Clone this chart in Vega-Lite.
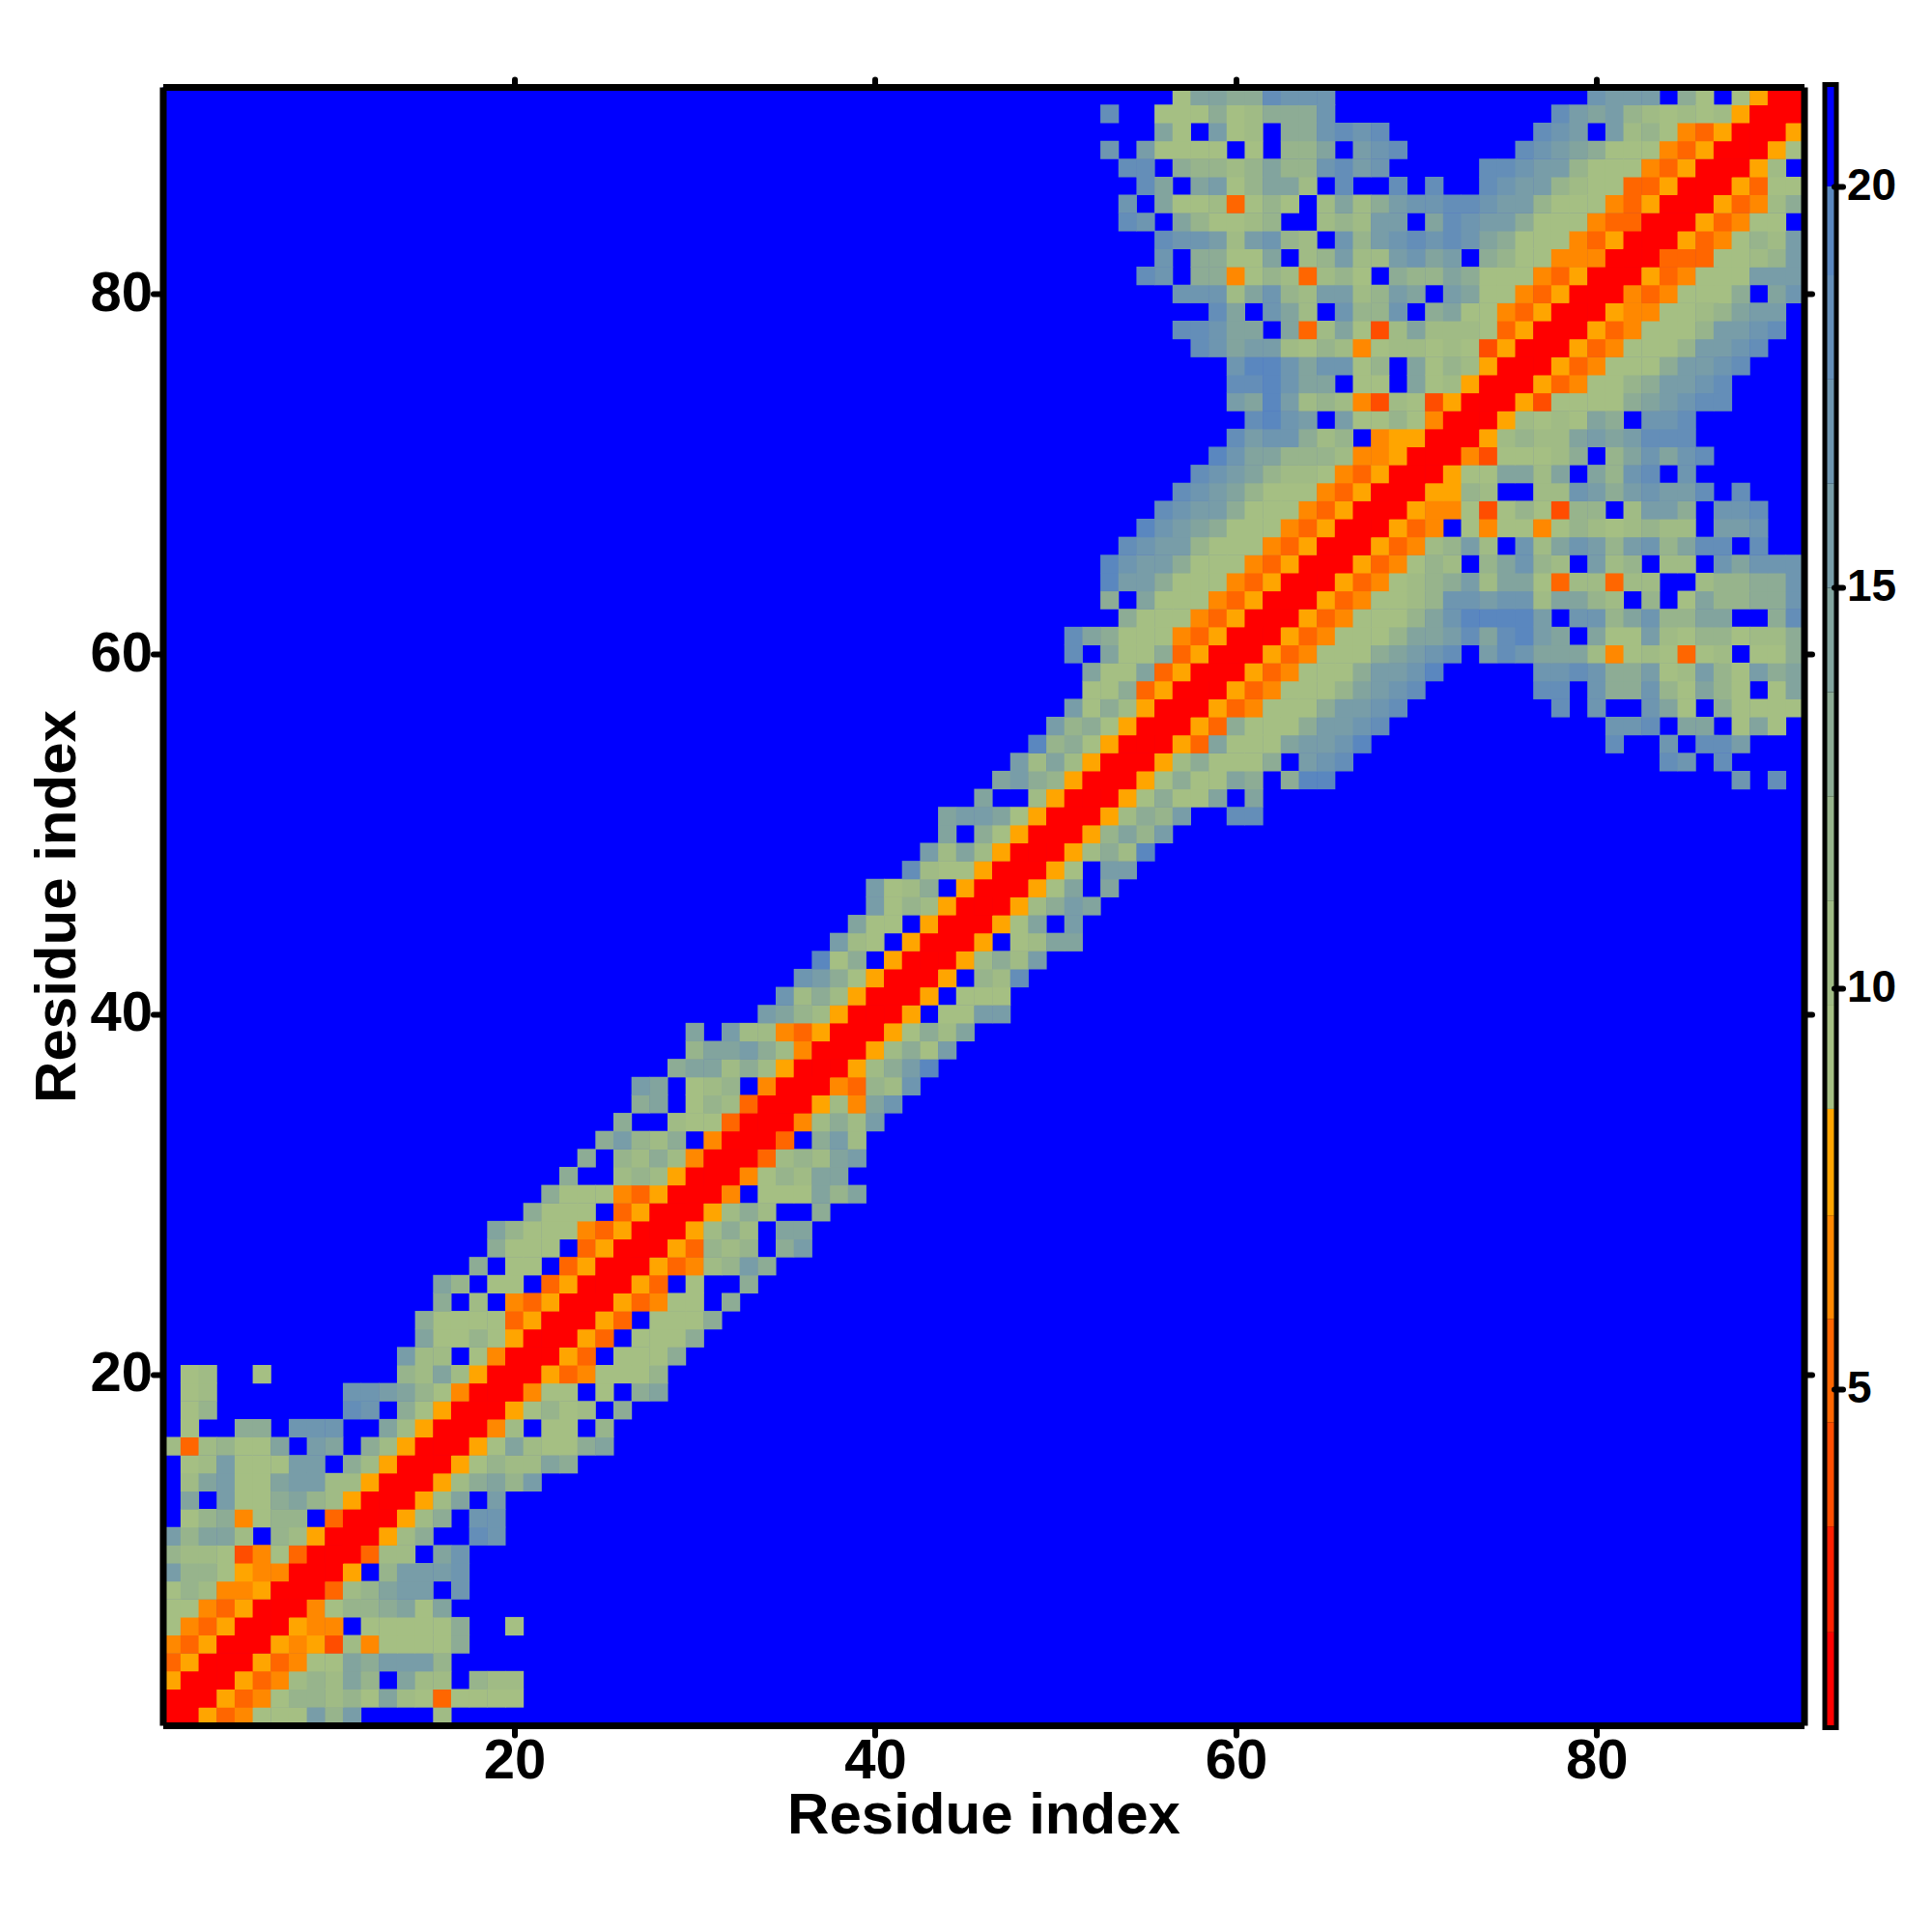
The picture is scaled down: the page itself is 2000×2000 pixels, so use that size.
{"$schema":"https://vega.github.io/schema/vega-lite/v6.json","background":"white","padding":{"left":29.5,"top":79,"right":0,"bottom":0},"spacing":8,"config":{"font":"Liberation Sans","view":{"stroke":null}},"datasets":{"cells":[
{"i":1,"j":1,"v":1.5},{"i":2,"j":1,"v":1.5},{"i":3,"j":1,"v":7.8},{"i":4,"j":1,"v":5.2},{"i":5,"j":1,"v":6.5},{"i":6,"j":1,"v":9},{"i":7,"j":1,"v":9},{"i":8,"j":1,"v":9},{"i":9,"j":1,"v":15.6},{"i":10,"j":1,"v":11.7},{"i":11,"j":1,"v":15.6},{"i":16,"j":1,"v":10.5},
{"i":2,"j":2,"v":1.5},{"i":3,"j":2,"v":1.5},{"i":4,"j":2,"v":7.8},{"i":5,"j":2,"v":5.2},{"i":6,"j":2,"v":6.5},{"i":7,"j":2,"v":9},{"i":8,"j":2,"v":11.7},{"i":9,"j":2,"v":11.7},{"i":10,"j":2,"v":10.5},{"i":11,"j":2,"v":11.7},{"i":12,"j":2,"v":9},{"i":13,"j":2,"v":14.3},{"i":14,"j":2,"v":10.5},{"i":15,"j":2,"v":9},{"i":16,"j":2,"v":5.2},{"i":17,"j":2,"v":9},{"i":18,"j":2,"v":9},{"i":19,"j":2,"v":9},{"i":20,"j":2,"v":9},
{"i":3,"j":3,"v":1.5},{"i":4,"j":3,"v":1.5},{"i":5,"j":3,"v":7.8},{"i":6,"j":3,"v":5.2},{"i":7,"j":3,"v":6.5},{"i":8,"j":3,"v":10.5},{"i":9,"j":3,"v":11.7},{"i":10,"j":3,"v":10.5},{"i":11,"j":3,"v":14.3},{"i":12,"j":3,"v":11.7},{"i":14,"j":3,"v":14.3},{"i":15,"j":3,"v":10.5},{"i":16,"j":3,"v":10.5},{"i":18,"j":3,"v":11.7},{"i":19,"j":3,"v":10.5},{"i":20,"j":3,"v":10.5},
{"i":4,"j":4,"v":1.5},{"i":5,"j":4,"v":1.5},{"i":6,"j":4,"v":7.8},{"i":7,"j":4,"v":5.2},{"i":8,"j":4,"v":6.5},{"i":9,"j":4,"v":9},{"i":10,"j":4,"v":9},{"i":11,"j":4,"v":14.3},{"i":12,"j":4,"v":13},{"i":13,"j":4,"v":15.6},{"i":14,"j":4,"v":15.6},{"i":15,"j":4,"v":15.6},{"i":16,"j":4,"v":11.7},
{"i":5,"j":5,"v":1.5},{"i":6,"j":5,"v":1.5},{"i":7,"j":5,"v":7.8},{"i":8,"j":5,"v":6.5},{"i":9,"j":5,"v":7.8},{"i":10,"j":5,"v":4},{"i":11,"j":5,"v":10.5},{"i":12,"j":5,"v":6.5},{"i":13,"j":5,"v":9},{"i":14,"j":5,"v":9},{"i":15,"j":5,"v":9},{"i":16,"j":5,"v":9},{"i":17,"j":5,"v":13},
{"i":6,"j":6,"v":1.5},{"i":7,"j":6,"v":1.5},{"i":8,"j":6,"v":7.8},{"i":9,"j":6,"v":6.5},{"i":10,"j":6,"v":6.5},{"i":12,"j":6,"v":9},{"i":13,"j":6,"v":9},{"i":14,"j":6,"v":9},{"i":15,"j":6,"v":9},{"i":16,"j":6,"v":9},{"i":17,"j":6,"v":13},{"i":20,"j":6,"v":9},
{"i":7,"j":7,"v":1.5},{"i":8,"j":7,"v":1.5},{"i":9,"j":7,"v":6.5},{"i":10,"j":7,"v":9},{"i":11,"j":7,"v":11.7},{"i":12,"j":7,"v":11.7},{"i":13,"j":7,"v":13},{"i":14,"j":7,"v":14.3},{"i":15,"j":7,"v":9},{"i":16,"j":7,"v":14.3},
{"i":8,"j":8,"v":1.5},{"i":9,"j":8,"v":1.5},{"i":10,"j":8,"v":5.2},{"i":11,"j":8,"v":10.5},{"i":12,"j":8,"v":11.7},{"i":13,"j":8,"v":14.3},{"i":14,"j":8,"v":15.6},{"i":15,"j":8,"v":15.6},{"i":17,"j":8,"v":17},
{"i":9,"j":9,"v":1.5},{"i":10,"j":9,"v":1.5},{"i":11,"j":9,"v":7.8},{"i":13,"j":9,"v":11.7},{"i":14,"j":9,"v":15.6},{"i":15,"j":9,"v":15.6},{"i":16,"j":9,"v":15.6},{"i":17,"j":9,"v":17},
{"i":10,"j":10,"v":1.5},{"i":11,"j":10,"v":1.5},{"i":12,"j":10,"v":5.2},{"i":13,"j":10,"v":10.5},{"i":14,"j":10,"v":10.5},{"i":16,"j":10,"v":14.3},{"i":17,"j":10,"v":17},
{"i":11,"j":11,"v":1.5},{"i":12,"j":11,"v":1.5},{"i":13,"j":11,"v":7.8},{"i":14,"j":11,"v":10.5},{"i":15,"j":11,"v":13},{"i":18,"j":11,"v":18.2},{"i":19,"j":11,"v":17},
{"i":12,"j":12,"v":1.5},{"i":13,"j":12,"v":1.5},{"i":14,"j":12,"v":7.8},{"i":15,"j":12,"v":10.5},{"i":16,"j":12,"v":13},{"i":18,"j":12,"v":17},{"i":19,"j":12,"v":17},
{"i":13,"j":13,"v":1.5},{"i":14,"j":13,"v":1.5},{"i":15,"j":13,"v":7.8},{"i":16,"j":13,"v":10.5},{"i":17,"j":13,"v":14.3},{"i":19,"j":13,"v":15.6},
{"i":14,"j":14,"v":1.5},{"i":15,"j":14,"v":1.5},{"i":16,"j":14,"v":7.8},{"i":17,"j":14,"v":10.5},{"i":18,"j":14,"v":13},{"i":19,"j":14,"v":14.3},{"i":20,"j":14,"v":11.7},{"i":21,"j":14,"v":15.6},
{"i":15,"j":15,"v":1.5},{"i":16,"j":15,"v":1.5},{"i":17,"j":15,"v":7.8},{"i":18,"j":15,"v":9},{"i":19,"j":15,"v":11.7},{"i":20,"j":15,"v":10.5},{"i":21,"j":15,"v":10.5},{"i":22,"j":15,"v":14.3},{"i":23,"j":15,"v":13},
{"i":16,"j":16,"v":1.5},{"i":17,"j":16,"v":1.5},{"i":18,"j":16,"v":7.8},{"i":19,"j":16,"v":9},{"i":20,"j":16,"v":14.3},{"i":21,"j":16,"v":10.5},{"i":22,"j":16,"v":9},{"i":23,"j":16,"v":9},{"i":24,"j":16,"v":13},{"i":25,"j":16,"v":14.3},
{"i":17,"j":17,"v":1.5},{"i":18,"j":17,"v":1.5},{"i":19,"j":17,"v":6.5},{"i":20,"j":17,"v":10.5},{"i":22,"j":17,"v":9},{"i":23,"j":17,"v":9},{"i":25,"j":17,"v":11.7},
{"i":18,"j":18,"v":1.5},{"i":19,"j":18,"v":1.5},{"i":20,"j":18,"v":7.8},{"i":21,"j":18,"v":9},{"i":22,"j":18,"v":11.7},{"i":23,"j":18,"v":9},{"i":24,"j":18,"v":10.5},{"i":26,"j":18,"v":13},
{"i":19,"j":19,"v":1.5},{"i":20,"j":19,"v":1.5},{"i":21,"j":19,"v":6.5},{"i":22,"j":19,"v":9},{"i":23,"j":19,"v":9},{"i":25,"j":19,"v":9},{"i":27,"j":19,"v":13},{"i":28,"j":19,"v":14.3},
{"i":20,"j":20,"v":1.5},{"i":21,"j":20,"v":1.5},{"i":22,"j":20,"v":7.8},{"i":23,"j":20,"v":5.2},{"i":24,"j":20,"v":6.5},{"i":25,"j":20,"v":9},{"i":26,"j":20,"v":9},{"i":27,"j":20,"v":9},{"i":28,"j":20,"v":11.7},
{"i":21,"j":21,"v":1.5},{"i":22,"j":21,"v":1.5},{"i":23,"j":21,"v":7.8},{"i":24,"j":21,"v":5.2},{"i":26,"j":21,"v":9},{"i":27,"j":21,"v":9},{"i":28,"j":21,"v":9},{"i":29,"j":21,"v":13},
{"i":22,"j":22,"v":1.5},{"i":23,"j":22,"v":1.5},{"i":24,"j":22,"v":7.8},{"i":25,"j":22,"v":5.2},{"i":27,"j":22,"v":9},{"i":28,"j":22,"v":9},{"i":29,"j":22,"v":9},{"i":30,"j":22,"v":13},
{"i":23,"j":23,"v":1.5},{"i":24,"j":23,"v":1.5},{"i":25,"j":23,"v":7.8},{"i":26,"j":23,"v":5.2},{"i":28,"j":23,"v":9},{"i":29,"j":23,"v":9},{"i":30,"j":23,"v":9},{"i":31,"j":23,"v":13},
{"i":24,"j":24,"v":1.5},{"i":25,"j":24,"v":1.5},{"i":26,"j":24,"v":7.8},{"i":27,"j":24,"v":5.2},{"i":28,"j":24,"v":6.5},{"i":29,"j":24,"v":9},{"i":30,"j":24,"v":9},{"i":32,"j":24,"v":13},
{"i":25,"j":25,"v":1.5},{"i":26,"j":25,"v":1.5},{"i":27,"j":25,"v":7.8},{"i":28,"j":25,"v":5.2},{"i":30,"j":25,"v":9},{"i":33,"j":25,"v":13},
{"i":26,"j":26,"v":1.5},{"i":27,"j":26,"v":1.5},{"i":28,"j":26,"v":7.8},{"i":29,"j":26,"v":5.2},{"i":30,"j":26,"v":6.5},{"i":31,"j":26,"v":10.5},{"i":32,"j":26,"v":11.7},{"i":33,"j":26,"v":15.6},{"i":34,"j":26,"v":13},
{"i":27,"j":27,"v":1.5},{"i":28,"j":27,"v":1.5},{"i":29,"j":27,"v":7.8},{"i":30,"j":27,"v":5.2},{"i":31,"j":27,"v":11.7},{"i":32,"j":27,"v":10.5},{"i":33,"j":27,"v":11.7},{"i":35,"j":27,"v":13},{"i":36,"j":27,"v":15.6},
{"i":28,"j":28,"v":1.5},{"i":29,"j":28,"v":1.5},{"i":30,"j":28,"v":7.8},{"i":31,"j":28,"v":10.5},{"i":32,"j":28,"v":13},{"i":33,"j":28,"v":10.5},{"i":35,"j":28,"v":14.3},{"i":36,"j":28,"v":14.3},
{"i":29,"j":29,"v":1.5},{"i":30,"j":29,"v":1.5},{"i":31,"j":29,"v":7.8},{"i":32,"j":29,"v":10.5},{"i":33,"j":29,"v":13},{"i":34,"j":29,"v":10.5},{"i":37,"j":29,"v":13},
{"i":30,"j":30,"v":1.5},{"i":31,"j":30,"v":1.5},{"i":32,"j":30,"v":6.5},{"i":34,"j":30,"v":9},{"i":35,"j":30,"v":9},{"i":36,"j":30,"v":9},{"i":37,"j":30,"v":14.3},{"i":38,"j":30,"v":11.7},{"i":39,"j":30,"v":14.3},
{"i":31,"j":31,"v":1.5},{"i":32,"j":31,"v":1.5},{"i":33,"j":31,"v":6.5},{"i":34,"j":31,"v":9},{"i":35,"j":31,"v":11.7},{"i":36,"j":31,"v":10.5},{"i":37,"j":31,"v":14.3},{"i":38,"j":31,"v":14.3},
{"i":32,"j":32,"v":1.5},{"i":33,"j":32,"v":1.5},{"i":34,"j":32,"v":5.2},{"i":35,"j":32,"v":10.5},{"i":36,"j":32,"v":11.7},{"i":37,"j":32,"v":10.5},{"i":38,"j":32,"v":14.3},{"i":39,"j":32,"v":15.6},
{"i":33,"j":33,"v":1.5},{"i":34,"j":33,"v":1.5},{"i":35,"j":33,"v":5.2},{"i":37,"j":33,"v":13},{"i":38,"j":33,"v":15.6},{"i":39,"j":33,"v":10.5},
{"i":34,"j":34,"v":1.5},{"i":35,"j":34,"v":1.5},{"i":36,"j":34,"v":6.5},{"i":37,"j":34,"v":10.5},{"i":38,"j":34,"v":13},{"i":39,"j":34,"v":10.5},{"i":40,"j":34,"v":15.6},
{"i":35,"j":35,"v":1.5},{"i":36,"j":35,"v":1.5},{"i":37,"j":35,"v":7.8},{"i":38,"j":35,"v":10.5},{"i":39,"j":35,"v":6.5},{"i":40,"j":35,"v":14.3},{"i":41,"j":35,"v":17},
{"i":36,"j":36,"v":1.5},{"i":37,"j":36,"v":1.5},{"i":38,"j":36,"v":6.5},{"i":39,"j":36,"v":5.2},{"i":40,"j":36,"v":11.7},{"i":41,"j":36,"v":10.5},{"i":42,"j":36,"v":17},
{"i":37,"j":37,"v":1.5},{"i":38,"j":37,"v":1.5},{"i":39,"j":37,"v":7.8},{"i":40,"j":37,"v":10.5},{"i":41,"j":37,"v":13},{"i":42,"j":37,"v":15.6},{"i":43,"j":37,"v":19.5},
{"i":38,"j":38,"v":1.5},{"i":39,"j":38,"v":1.5},{"i":40,"j":38,"v":7.8},{"i":41,"j":38,"v":10.5},{"i":42,"j":38,"v":13},{"i":43,"j":38,"v":9},{"i":44,"j":38,"v":15.6},
{"i":39,"j":39,"v":1.5},{"i":40,"j":39,"v":1.5},{"i":41,"j":39,"v":7.8},{"i":42,"j":39,"v":9},{"i":43,"j":39,"v":13},{"i":44,"j":39,"v":10.5},{"i":45,"j":39,"v":14.3},
{"i":40,"j":40,"v":1.5},{"i":41,"j":40,"v":1.5},{"i":42,"j":40,"v":7.8},{"i":44,"j":40,"v":9},{"i":45,"j":40,"v":9},{"i":46,"j":40,"v":15.6},{"i":47,"j":40,"v":15.6},
{"i":41,"j":41,"v":1.5},{"i":42,"j":41,"v":1.5},{"i":43,"j":41,"v":7.8},{"i":45,"j":41,"v":9},{"i":46,"j":41,"v":9},{"i":47,"j":41,"v":9},
{"i":42,"j":42,"v":1.5},{"i":43,"j":42,"v":1.5},{"i":44,"j":42,"v":7.8},{"i":46,"j":42,"v":11.7},{"i":47,"j":42,"v":10.5},{"i":48,"j":42,"v":18.2},
{"i":43,"j":43,"v":1.5},{"i":44,"j":43,"v":1.5},{"i":45,"j":43,"v":7.8},{"i":46,"j":43,"v":10.5},{"i":47,"j":43,"v":13},{"i":48,"j":43,"v":10.5},{"i":49,"j":43,"v":15.6},
{"i":44,"j":44,"v":1.5},{"i":45,"j":44,"v":1.5},{"i":46,"j":44,"v":7.8},{"i":48,"j":44,"v":9},{"i":49,"j":44,"v":10.5},{"i":50,"j":44,"v":14.3},{"i":51,"j":44,"v":14.3},
{"i":45,"j":45,"v":1.5},{"i":46,"j":45,"v":1.5},{"i":47,"j":45,"v":7.8},{"i":48,"j":45,"v":9},{"i":49,"j":45,"v":14.3},{"i":51,"j":45,"v":15.6},
{"i":46,"j":46,"v":1.5},{"i":47,"j":46,"v":1.5},{"i":48,"j":46,"v":7.8},{"i":49,"j":46,"v":10.5},{"i":50,"j":46,"v":13},{"i":51,"j":46,"v":15.6},{"i":52,"j":46,"v":14.3},
{"i":47,"j":47,"v":1.5},{"i":48,"j":47,"v":1.5},{"i":49,"j":47,"v":7.8},{"i":50,"j":47,"v":9},{"i":51,"j":47,"v":14.3},{"i":53,"j":47,"v":14.3},
{"i":48,"j":48,"v":1.5},{"i":49,"j":48,"v":1.5},{"i":50,"j":48,"v":7.8},{"i":51,"j":48,"v":9},{"i":53,"j":48,"v":15.6},{"i":54,"j":48,"v":15.6},
{"i":49,"j":49,"v":1.5},{"i":50,"j":49,"v":1.5},{"i":51,"j":49,"v":7.8},{"i":52,"j":49,"v":10.5},{"i":53,"j":49,"v":13},{"i":54,"j":49,"v":10.5},{"i":55,"j":49,"v":19.5},
{"i":50,"j":50,"v":1.5},{"i":51,"j":50,"v":1.5},{"i":52,"j":50,"v":7.8},{"i":53,"j":50,"v":11.7},{"i":54,"j":50,"v":14.3},{"i":55,"j":50,"v":11.7},{"i":56,"j":50,"v":15.6},
{"i":51,"j":51,"v":1.5},{"i":52,"j":51,"v":1.5},{"i":53,"j":51,"v":7.8},{"i":54,"j":51,"v":10.5},{"i":55,"j":51,"v":13},{"i":56,"j":51,"v":11.7},{"i":57,"j":51,"v":15.6},{"i":60,"j":51,"v":18.2},{"i":61,"j":51,"v":18.2},
{"i":52,"j":52,"v":1.5},{"i":53,"j":52,"v":1.5},{"i":54,"j":52,"v":7.8},{"i":55,"j":52,"v":9},{"i":56,"j":52,"v":13},{"i":57,"j":52,"v":9},{"i":58,"j":52,"v":9},{"i":59,"j":52,"v":14.3},{"i":61,"j":52,"v":14.3},
{"i":53,"j":53,"v":1.5},{"i":54,"j":53,"v":1.5},{"i":55,"j":53,"v":7.8},{"i":56,"j":53,"v":9},{"i":57,"j":53,"v":13},{"i":58,"j":53,"v":9},{"i":59,"j":53,"v":9},{"i":60,"j":53,"v":14.3},{"i":61,"j":53,"v":13},{"i":63,"j":53,"v":13},{"i":64,"j":53,"v":19.5},{"i":65,"j":53,"v":19.5},{"i":88,"j":53,"v":17},{"i":90,"j":53,"v":18.2},
{"i":54,"j":54,"v":1.5},{"i":55,"j":54,"v":1.5},{"i":56,"j":54,"v":7.8},{"i":57,"j":54,"v":10.5},{"i":58,"j":54,"v":13},{"i":59,"j":54,"v":9},{"i":60,"j":54,"v":9},{"i":61,"j":54,"v":9},{"i":62,"j":54,"v":13},{"i":64,"j":54,"v":15.6},{"i":65,"j":54,"v":17},{"i":66,"j":54,"v":18.2},{"i":84,"j":54,"v":18.2},{"i":85,"j":54,"v":17},{"i":87,"j":54,"v":18.2},
{"i":55,"j":55,"v":1.5},{"i":56,"j":55,"v":1.5},{"i":57,"j":55,"v":7.8},{"i":58,"j":55,"v":5.2},{"i":59,"j":55,"v":14.3},{"i":60,"j":55,"v":9},{"i":61,"j":55,"v":9},{"i":62,"j":55,"v":9},{"i":63,"j":55,"v":14.3},{"i":64,"j":55,"v":15.6},{"i":65,"j":55,"v":15.6},{"i":66,"j":55,"v":17},{"i":67,"j":55,"v":19.5},{"i":81,"j":55,"v":18.2},{"i":84,"j":55,"v":17},{"i":86,"j":55,"v":18.2},{"i":87,"j":55,"v":18.2},{"i":88,"j":55,"v":15.6},
{"i":56,"j":56,"v":1.5},{"i":57,"j":56,"v":1.5},{"i":58,"j":56,"v":7.8},{"i":59,"j":56,"v":5.2},{"i":60,"j":56,"v":13},{"i":61,"j":56,"v":9},{"i":62,"j":56,"v":9},{"i":63,"j":56,"v":9},{"i":64,"j":56,"v":13},{"i":65,"j":56,"v":15.6},{"i":66,"j":56,"v":15.6},{"i":67,"j":56,"v":17},{"i":68,"j":56,"v":18.2},{"i":81,"j":56,"v":17},{"i":82,"j":56,"v":17},{"i":83,"j":56,"v":18.2},{"i":85,"j":56,"v":14.3},{"i":86,"j":56,"v":14.3},{"i":88,"j":56,"v":9},{"i":89,"j":56,"v":14.3},{"i":90,"j":56,"v":9},
{"i":57,"j":57,"v":1.5},{"i":58,"j":57,"v":1.5},{"i":59,"j":57,"v":7.8},{"i":60,"j":57,"v":5.2},{"i":61,"j":57,"v":6.5},{"i":62,"j":57,"v":9},{"i":63,"j":57,"v":9},{"i":64,"j":57,"v":9},{"i":65,"j":57,"v":13},{"i":66,"j":57,"v":15.6},{"i":67,"j":57,"v":15.6},{"i":68,"j":57,"v":17},{"i":69,"j":57,"v":18.2},{"i":78,"j":57,"v":18.2},{"i":80,"j":57,"v":17},{"i":83,"j":57,"v":17},{"i":84,"j":57,"v":14.3},{"i":85,"j":57,"v":9},{"i":87,"j":57,"v":13},{"i":88,"j":57,"v":9},{"i":89,"j":57,"v":9},{"i":90,"j":57,"v":9},{"i":91,"j":57,"v":9},
{"i":58,"j":58,"v":1.5},{"i":59,"j":58,"v":1.5},{"i":60,"j":58,"v":7.8},{"i":61,"j":58,"v":5.2},{"i":62,"j":58,"v":6.5},{"i":63,"j":58,"v":9},{"i":64,"j":58,"v":9},{"i":65,"j":58,"v":9},{"i":66,"j":58,"v":11.7},{"i":67,"j":58,"v":14.3},{"i":68,"j":58,"v":15.6},{"i":69,"j":58,"v":17},{"i":70,"j":58,"v":18.2},{"i":77,"j":58,"v":18.2},{"i":78,"j":58,"v":18.2},{"i":80,"j":58,"v":17},{"i":81,"j":58,"v":13},{"i":82,"j":58,"v":13},{"i":83,"j":58,"v":17},{"i":84,"j":58,"v":11.7},{"i":85,"j":58,"v":9},{"i":86,"j":58,"v":14.3},{"i":87,"j":58,"v":11.7},{"i":88,"j":58,"v":9},{"i":90,"j":58,"v":9},{"i":91,"j":58,"v":14.3},
{"i":59,"j":59,"v":1.5},{"i":60,"j":59,"v":1.5},{"i":61,"j":59,"v":7.8},{"i":62,"j":59,"v":5.2},{"i":63,"j":59,"v":6.5},{"i":64,"j":59,"v":9},{"i":65,"j":59,"v":9},{"i":66,"j":59,"v":9},{"i":67,"j":59,"v":13},{"i":68,"j":59,"v":15.6},{"i":69,"j":59,"v":15.6},{"i":70,"j":59,"v":17},{"i":71,"j":59,"v":19.5},{"i":77,"j":59,"v":17},{"i":78,"j":59,"v":17},{"i":79,"j":59,"v":18.2},{"i":80,"j":59,"v":17},{"i":81,"j":59,"v":13},{"i":82,"j":59,"v":13},{"i":83,"j":59,"v":15.6},{"i":84,"j":59,"v":9},{"i":85,"j":59,"v":10.5},{"i":86,"j":59,"v":15.6},{"i":87,"j":59,"v":11.7},{"i":88,"j":59,"v":9},{"i":89,"j":59,"v":15.6},{"i":90,"j":59,"v":13},{"i":91,"j":59,"v":14.3},
{"i":60,"j":60,"v":1.5},{"i":61,"j":60,"v":1.5},{"i":62,"j":60,"v":7.8},{"i":63,"j":60,"v":5.2},{"i":64,"j":60,"v":6.5},{"i":65,"j":60,"v":9},{"i":66,"j":60,"v":9},{"i":67,"j":60,"v":9},{"i":68,"j":60,"v":13},{"i":69,"j":60,"v":14.3},{"i":70,"j":60,"v":15.6},{"i":71,"j":60,"v":17},{"i":72,"j":60,"v":18.2},{"i":74,"j":60,"v":15.6},{"i":75,"j":60,"v":18.2},{"i":76,"j":60,"v":17},{"i":77,"j":60,"v":14.3},{"i":78,"j":60,"v":14.3},{"i":79,"j":60,"v":14.3},{"i":80,"j":60,"v":10.5},{"i":81,"j":60,"v":6.5},{"i":82,"j":60,"v":9},{"i":83,"j":60,"v":10.5},{"i":84,"j":60,"v":9},{"i":85,"j":60,"v":5.2},{"i":86,"j":60,"v":9},{"i":87,"j":60,"v":10.5},{"i":89,"j":60,"v":9},{"i":90,"j":60,"v":9},{"i":91,"j":60,"v":13},
{"i":61,"j":61,"v":1.5},{"i":62,"j":61,"v":1.5},{"i":63,"j":61,"v":7.8},{"i":64,"j":61,"v":5.2},{"i":65,"j":61,"v":6.5},{"i":66,"j":61,"v":9},{"i":67,"j":61,"v":9},{"i":68,"j":61,"v":9},{"i":69,"j":61,"v":11.7},{"i":70,"j":61,"v":14.3},{"i":71,"j":61,"v":14.3},{"i":72,"j":61,"v":15.6},{"i":73,"j":61,"v":18.2},{"i":74,"j":61,"v":14.3},{"i":75,"j":61,"v":18.2},{"i":76,"j":61,"v":19.5},{"i":77,"j":61,"v":15.6},{"i":78,"j":61,"v":14.3},{"i":80,"j":61,"v":14.3},{"i":81,"j":61,"v":9},{"i":82,"j":61,"v":9},{"i":83,"j":61,"v":15.6},{"i":84,"j":61,"v":10.5},{"i":85,"j":61,"v":9},{"i":86,"j":61,"v":11.7},{"i":87,"j":61,"v":11.7},{"i":88,"j":61,"v":9},{"i":89,"j":61,"v":10.5},{"i":90,"j":61,"v":10.5},{"i":91,"j":61,"v":13},
{"i":62,"j":62,"v":1.5},{"i":63,"j":62,"v":1.5},{"i":64,"j":62,"v":7.8},{"i":65,"j":62,"v":5.2},{"i":66,"j":62,"v":6.5},{"i":67,"j":62,"v":9},{"i":68,"j":62,"v":9},{"i":69,"j":62,"v":9},{"i":70,"j":62,"v":11.7},{"i":71,"j":62,"v":14.3},{"i":72,"j":62,"v":17},{"i":73,"j":62,"v":19.5},{"i":74,"j":62,"v":19.5},{"i":75,"j":62,"v":19.5},{"i":76,"j":62,"v":19.5},{"i":77,"j":62,"v":15.6},{"i":79,"j":62,"v":17},{"i":80,"j":62,"v":17},{"i":81,"j":62,"v":11.7},{"i":82,"j":62,"v":14.3},{"i":83,"j":62,"v":17},{"i":84,"j":62,"v":11.7},{"i":85,"j":62,"v":11.7},{"i":86,"j":62,"v":14.3},{"i":87,"j":62,"v":14.3},{"i":90,"j":62,"v":13},{"i":91,"j":62,"v":18.2},
{"i":63,"j":63,"v":1.5},{"i":64,"j":63,"v":1.5},{"i":65,"j":63,"v":7.8},{"i":66,"j":63,"v":5.2},{"i":67,"j":63,"v":6.5},{"i":68,"j":63,"v":9},{"i":69,"j":63,"v":9},{"i":70,"j":63,"v":10.5},{"i":71,"j":63,"v":11.7},{"i":72,"j":63,"v":17},{"i":73,"j":63,"v":17},{"i":74,"j":63,"v":15.6},{"i":75,"j":63,"v":17},{"i":76,"j":63,"v":17},{"i":77,"j":63,"v":10.5},{"i":78,"j":63,"v":14.3},{"i":79,"j":63,"v":14.3},{"i":80,"j":63,"v":11.7},{"i":81,"j":63,"v":10.5},{"i":83,"j":63,"v":11.7},{"i":85,"j":63,"v":9},{"i":86,"j":63,"v":14.3},{"i":87,"j":63,"v":11.7},{"i":88,"j":63,"v":11.7},{"i":89,"j":63,"v":13},{"i":90,"j":63,"v":13},{"i":91,"j":63,"v":17},
{"i":64,"j":64,"v":1.5},{"i":65,"j":64,"v":1.5},{"i":66,"j":64,"v":7.8},{"i":67,"j":64,"v":5.2},{"i":68,"j":64,"v":6.5},{"i":69,"j":64,"v":9},{"i":70,"j":64,"v":10.5},{"i":71,"j":64,"v":11.7},{"i":72,"j":64,"v":13},{"i":73,"j":64,"v":15.6},{"i":74,"j":64,"v":10.5},{"i":75,"j":64,"v":14.3},{"i":76,"j":64,"v":14.3},{"i":77,"j":64,"v":9},{"i":78,"j":64,"v":5.2},{"i":79,"j":64,"v":10.5},{"i":80,"j":64,"v":10.5},{"i":81,"j":64,"v":5.2},{"i":82,"j":64,"v":10.5},{"i":83,"j":64,"v":10.5},{"i":86,"j":64,"v":10.5},{"i":87,"j":64,"v":11.7},{"i":88,"j":64,"v":11.7},{"i":89,"j":64,"v":13},{"i":90,"j":64,"v":13},{"i":91,"j":64,"v":17},
{"i":65,"j":65,"v":1.5},{"i":66,"j":65,"v":1.5},{"i":67,"j":65,"v":7.8},{"i":68,"j":65,"v":5.2},{"i":69,"j":65,"v":6.5},{"i":70,"j":65,"v":9},{"i":71,"j":65,"v":11.7},{"i":72,"j":65,"v":10.5},{"i":74,"j":65,"v":11.7},{"i":75,"j":65,"v":14.3},{"i":76,"j":65,"v":17},{"i":77,"j":65,"v":11.7},{"i":78,"j":65,"v":10.5},{"i":80,"j":65,"v":15.6},{"i":81,"j":65,"v":10.5},{"i":82,"j":65,"v":11.7},{"i":84,"j":65,"v":10.5},{"i":85,"j":65,"v":10.5},{"i":87,"j":65,"v":17},{"i":88,"j":65,"v":14.3},{"i":89,"j":65,"v":17},{"i":90,"j":65,"v":17},{"i":91,"j":65,"v":17},
{"i":66,"j":66,"v":1.5},{"i":67,"j":66,"v":1.5},{"i":68,"j":66,"v":7.8},{"i":69,"j":66,"v":5.2},{"i":70,"j":66,"v":6.5},{"i":71,"j":66,"v":10.5},{"i":72,"j":66,"v":11.7},{"i":73,"j":66,"v":15.6},{"i":74,"j":66,"v":10.5},{"i":76,"j":66,"v":17},{"i":77,"j":66,"v":10.5},{"i":78,"j":66,"v":14.3},{"i":79,"j":66,"v":17},{"i":80,"j":66,"v":15.6},{"i":81,"j":66,"v":11.7},{"i":82,"j":66,"v":15.6},{"i":83,"j":66,"v":17},{"i":84,"j":66,"v":11.7},{"i":85,"j":66,"v":14.3},{"i":86,"j":66,"v":18.2},{"i":87,"j":66,"v":18.2},{"i":89,"j":66,"v":18.2},
{"i":67,"j":67,"v":1.5},{"i":68,"j":67,"v":1.5},{"i":69,"j":67,"v":7.8},{"i":70,"j":67,"v":5.2},{"i":71,"j":67,"v":6.5},{"i":73,"j":67,"v":9},{"i":74,"j":67,"v":6.5},{"i":75,"j":67,"v":9},{"i":76,"j":67,"v":9},{"i":77,"j":67,"v":6.5},{"i":78,"j":67,"v":9},{"i":79,"j":67,"v":11.7},{"i":80,"j":67,"v":10.5},{"i":81,"j":67,"v":9},{"i":82,"j":67,"v":10.5},{"i":83,"j":67,"v":11.7},{"i":84,"j":67,"v":10.5},{"i":85,"j":67,"v":10.5},{"i":87,"j":67,"v":15.6},{"i":88,"j":67,"v":15.6},{"i":89,"j":67,"v":17},
{"i":68,"j":68,"v":1.5},{"i":69,"j":68,"v":1.5},{"i":70,"j":68,"v":7.8},{"i":71,"j":68,"v":6.5},{"i":72,"j":68,"v":6.5},{"i":73,"j":68,"v":9},{"i":74,"j":68,"v":4},{"i":75,"j":68,"v":9},{"i":76,"j":68,"v":11.7},{"i":77,"j":68,"v":9},{"i":78,"j":68,"v":4},{"i":79,"j":68,"v":11.7},{"i":80,"j":68,"v":11.7},{"i":82,"j":68,"v":10.5},{"i":83,"j":68,"v":15.6},{"i":84,"j":68,"v":15.6},{"i":85,"j":68,"v":13},{"i":87,"j":68,"v":17},{"i":88,"j":68,"v":17},{"i":89,"j":68,"v":18.2},
{"i":69,"j":69,"v":1.5},{"i":70,"j":69,"v":1.5},{"i":71,"j":69,"v":7.8},{"i":72,"j":69,"v":7.8},{"i":73,"j":69,"v":11.7},{"i":74,"j":69,"v":10.5},{"i":77,"j":69,"v":10.5},{"i":78,"j":69,"v":10.5},{"i":79,"j":69,"v":17},{"i":80,"j":69,"v":15.6},{"i":81,"j":69,"v":13},{"i":82,"j":69,"v":15.6},{"i":83,"j":69,"v":17},{"i":84,"j":69,"v":15.6},{"i":85,"j":69,"v":15.6},{"i":86,"j":69,"v":18.2},{"i":88,"j":69,"v":18.2},
{"i":70,"j":70,"v":1.5},{"i":71,"j":70,"v":1.5},{"i":72,"j":70,"v":7.8},{"i":73,"j":70,"v":9},{"i":74,"j":70,"v":9},{"i":75,"j":70,"v":14.3},{"i":76,"j":70,"v":14.3},{"i":77,"j":70,"v":10.5},{"i":78,"j":70,"v":14.3},{"i":80,"j":70,"v":14.3},{"i":81,"j":70,"v":11.7},{"i":82,"j":70,"v":17},{"i":83,"j":70,"v":18.2},{"i":85,"j":70,"v":17},
{"i":71,"j":71,"v":1.5},{"i":72,"j":71,"v":1.5},{"i":73,"j":71,"v":6.5},{"i":74,"j":71,"v":4},{"i":75,"j":71,"v":9},{"i":76,"j":71,"v":9},{"i":77,"j":71,"v":9},{"i":78,"j":71,"v":10.5},{"i":79,"j":71,"v":13},{"i":81,"j":71,"v":11.7},{"i":82,"j":71,"v":14.3},{"i":83,"j":71,"v":17},{"i":84,"j":71,"v":14.3},{"i":85,"j":71,"v":17},{"i":86,"j":71,"v":18.2},
{"i":72,"j":72,"v":1.5},{"i":73,"j":72,"v":1.5},{"i":74,"j":72,"v":7.8},{"i":75,"j":72,"v":10.5},{"i":76,"j":72,"v":11.7},{"i":77,"j":72,"v":10.5},{"i":78,"j":72,"v":10.5},{"i":79,"j":72,"v":14.3},{"i":80,"j":72,"v":15.6},{"i":81,"j":72,"v":14.3},{"i":82,"j":72,"v":15.6},{"i":83,"j":72,"v":18.2},{"i":84,"j":72,"v":18.2},{"i":85,"j":72,"v":18.2},
{"i":73,"j":73,"v":1.5},{"i":74,"j":73,"v":1.5},{"i":75,"j":73,"v":7.8},{"i":76,"j":73,"v":10.5},{"i":77,"j":73,"v":9},{"i":78,"j":73,"v":10.5},{"i":79,"j":73,"v":9},{"i":80,"j":73,"v":14.3},{"i":81,"j":73,"v":13},{"i":83,"j":73,"v":17},{"i":84,"j":73,"v":17},{"i":85,"j":73,"v":18.2},
{"i":74,"j":74,"v":1.5},{"i":75,"j":74,"v":1.5},{"i":76,"j":74,"v":7.8},{"i":77,"j":74,"v":4},{"i":78,"j":74,"v":9},{"i":79,"j":74,"v":9},{"i":80,"j":74,"v":9},{"i":81,"j":74,"v":9},{"i":82,"j":74,"v":13},{"i":83,"j":74,"v":14.3},{"i":84,"j":74,"v":15.6},{"i":85,"j":74,"v":17},{"i":86,"j":74,"v":18.2},{"i":87,"j":74,"v":18.2},
{"i":75,"j":75,"v":1.5},{"i":76,"j":75,"v":1.5},{"i":77,"j":75,"v":7.8},{"i":78,"j":75,"v":5.2},{"i":79,"j":75,"v":6.5},{"i":80,"j":75,"v":9},{"i":81,"j":75,"v":9},{"i":82,"j":75,"v":11.7},{"i":83,"j":75,"v":13},{"i":84,"j":75,"v":15.6},{"i":85,"j":75,"v":15.6},{"i":86,"j":75,"v":17},{"i":87,"j":75,"v":18.2},
{"i":76,"j":76,"v":1.5},{"i":77,"j":76,"v":1.5},{"i":78,"j":76,"v":7.8},{"i":79,"j":76,"v":5.2},{"i":80,"j":76,"v":6.5},{"i":81,"j":76,"v":9},{"i":82,"j":76,"v":9},{"i":83,"j":76,"v":9},{"i":84,"j":76,"v":13},{"i":85,"j":76,"v":15.6},{"i":86,"j":76,"v":15.6},{"i":87,"j":76,"v":17},{"i":88,"j":76,"v":18.2},
{"i":77,"j":77,"v":1.5},{"i":78,"j":77,"v":1.5},{"i":79,"j":77,"v":7.8},{"i":80,"j":77,"v":5.2},{"i":81,"j":77,"v":6.5},{"i":82,"j":77,"v":9},{"i":83,"j":77,"v":9},{"i":84,"j":77,"v":9},{"i":85,"j":77,"v":11.7},{"i":86,"j":77,"v":15.6},{"i":87,"j":77,"v":15.6},{"i":88,"j":77,"v":17},{"i":89,"j":77,"v":18.2},
{"i":78,"j":78,"v":1.5},{"i":79,"j":78,"v":1.5},{"i":80,"j":78,"v":7.8},{"i":81,"j":78,"v":5.2},{"i":82,"j":78,"v":6.5},{"i":83,"j":78,"v":9},{"i":84,"j":78,"v":9},{"i":85,"j":78,"v":9},{"i":86,"j":78,"v":11.7},{"i":87,"j":78,"v":15.6},{"i":88,"j":78,"v":15.6},{"i":89,"j":78,"v":17},{"i":90,"j":78,"v":18.2},
{"i":79,"j":79,"v":1.5},{"i":80,"j":79,"v":1.5},{"i":81,"j":79,"v":7.8},{"i":82,"j":79,"v":6.5},{"i":83,"j":79,"v":6.5},{"i":84,"j":79,"v":9},{"i":85,"j":79,"v":9},{"i":86,"j":79,"v":10.5},{"i":87,"j":79,"v":11.7},{"i":88,"j":79,"v":14.3},{"i":89,"j":79,"v":15.6},{"i":90,"j":79,"v":15.6},
{"i":80,"j":80,"v":1.5},{"i":81,"j":80,"v":1.5},{"i":82,"j":80,"v":6.5},{"i":83,"j":80,"v":5.2},{"i":84,"j":80,"v":6.5},{"i":85,"j":80,"v":9},{"i":86,"j":80,"v":9},{"i":87,"j":80,"v":9},{"i":88,"j":80,"v":13},{"i":90,"j":80,"v":14.3},{"i":91,"j":80,"v":17},
{"i":81,"j":81,"v":1.5},{"i":82,"j":81,"v":1.5},{"i":83,"j":81,"v":7.8},{"i":84,"j":81,"v":5.2},{"i":85,"j":81,"v":6.5},{"i":86,"j":81,"v":9},{"i":87,"j":81,"v":9},{"i":88,"j":81,"v":9},{"i":89,"j":81,"v":15.6},{"i":90,"j":81,"v":15.6},{"i":91,"j":81,"v":15.6},
{"i":82,"j":82,"v":1.5},{"i":83,"j":82,"v":1.5},{"i":84,"j":82,"v":5.2},{"i":85,"j":82,"v":5.2},{"i":86,"j":82,"v":5.2},{"i":87,"j":82,"v":9},{"i":88,"j":82,"v":9},{"i":89,"j":82,"v":10.5},{"i":90,"j":82,"v":11.7},{"i":91,"j":82,"v":15.6},
{"i":83,"j":83,"v":1.5},{"i":84,"j":83,"v":1.5},{"i":85,"j":83,"v":7.8},{"i":86,"j":83,"v":5.2},{"i":87,"j":83,"v":6.5},{"i":88,"j":83,"v":9},{"i":89,"j":83,"v":11.7},{"i":90,"j":83,"v":10.5},{"i":91,"j":83,"v":15.6},
{"i":84,"j":84,"v":1.5},{"i":85,"j":84,"v":1.5},{"i":86,"j":84,"v":7.8},{"i":87,"j":84,"v":5.2},{"i":88,"j":84,"v":6.5},{"i":89,"j":84,"v":9},{"i":90,"j":84,"v":9},
{"i":85,"j":85,"v":1.5},{"i":86,"j":85,"v":1.5},{"i":87,"j":85,"v":7.8},{"i":88,"j":85,"v":5.2},{"i":89,"j":85,"v":6.5},{"i":90,"j":85,"v":10.5},{"i":91,"j":85,"v":13},
{"i":86,"j":86,"v":1.5},{"i":87,"j":86,"v":1.5},{"i":88,"j":86,"v":7.8},{"i":89,"j":86,"v":5.2},{"i":90,"j":86,"v":9},{"i":91,"j":86,"v":9},
{"i":87,"j":87,"v":1.5},{"i":88,"j":87,"v":1.5},{"i":89,"j":87,"v":7.8},{"i":90,"j":87,"v":10.5},
{"i":88,"j":88,"v":1.5},{"i":89,"j":88,"v":1.5},{"i":90,"j":88,"v":7.8},{"i":91,"j":88,"v":9},
{"i":89,"j":89,"v":1.5},{"i":90,"j":89,"v":1.5},{"i":91,"j":89,"v":7.8},
{"i":90,"j":90,"v":1.5},{"i":91,"j":90,"v":1.5},
{"i":91,"j":91,"v":1.5}],
"bar":[{"a":0.8,"b":1.96,"v":1.5},{"a":1.96,"b":3.28,"v":2.6},{"a":3.28,"b":4.58,"v":4},{"a":4.58,"b":5.87,"v":5.2},{"a":5.87,"b":7.16,"v":6.5},{"a":7.16,"b":8.49,"v":7.8},{"a":8.49,"b":9.79,"v":9},{"a":9.79,"b":11.09,"v":10.5},{"a":11.09,"b":12.39,"v":11.7},{"a":12.39,"b":13.69,"v":13},{"a":13.69,"b":14.99,"v":14.3},{"a":14.99,"b":16.29,"v":15.6},{"a":16.29,"b":17.59,"v":17},{"a":17.59,"b":18.89,"v":18.2},{"a":18.89,"b":20,"v":19.5},{"a":20,"b":21.24,"v":21}],"ax":[{"x":1,"y":1}]},"hconcat":[{"width":1699,"height":1696,"view":{"fill":"#0000ff","stroke":null},"resolve":{"axis":{"x":"independent","y":"independent"}},"layer":[{"data":{"name":"cells"},"mark":{"type":"rect","width":19.2,"height":19.2,"clip":true},"encoding":{"x":{"field":"i","type":"quantitative","scale":{"domain":[0.5,91.5],"nice":false,"zero":false},"axis":{"values":[20,40,60,80],"title":"Residue index","titleFontSize":60,"titleFontWeight":"bold","titlePadding":-2,"labelFontSize":58,"labelFontWeight":"bold","labelPadding":-2,"tickSize":10,"tickWidth":6,"tickCap":"round","tickColor":"black","domainColor":"black","domainWidth":7,"grid":false,"zindex":1,"labelColor":"black","titleColor":"black"}},"y":{"field":"j","type":"quantitative","scale":{"domain":[0.5,91.5],"nice":false,"zero":false},"axis":{"values":[20,40,60,80],"title":"Residue index","titleFontSize":60,"titleFontWeight":"bold","titlePadding":2,"labelFontSize":58,"labelFontWeight":"bold","labelPadding":1,"tickSize":10,"tickWidth":6,"tickCap":"round","tickColor":"black","domainColor":"black","domainWidth":7,"grid":false,"zindex":1,"labelColor":"black","titleColor":"black"}},"color":{"field":"v","type":"quantitative","legend":null,"scale":{"type":"threshold","domain":[1.96,3.28,4.58,5.87,7.16,8.49,9.79,11.09,12.39,13.69,14.99,16.29,17.59,18.89,20],"range":["#ff0000","#ff2000","#ff4d00","#ff6600","#ff8800","#ffa500","#a5bf83","#a0bb85","#97b48c","#8dac95","#82a49e","#789da8","#6e96b0","#648eb8","#5a87bf","#0000ff"]}}}},{"data":{"name":"cells"},"mark":{"type":"rect","width":19.2,"height":19.2,"clip":true},"encoding":{"x":{"field":"j","type":"quantitative","scale":{"domain":[0.5,91.5],"nice":false,"zero":false},"axis":null},"y":{"field":"i","type":"quantitative","scale":{"domain":[0.5,91.5],"nice":false,"zero":false},"axis":null},"color":{"field":"v","type":"quantitative","legend":null,"scale":{"type":"threshold","domain":[1.96,3.28,4.58,5.87,7.16,8.49,9.79,11.09,12.39,13.69,14.99,16.29,17.59,18.89,20],"range":["#ff0000","#ff2000","#ff4d00","#ff6600","#ff8800","#ffa500","#a5bf83","#a0bb85","#97b48c","#8dac95","#82a49e","#789da8","#6e96b0","#648eb8","#5a87bf","#0000ff"]}}}},{"data":{"name":"ax"},"mark":{"type":"point","opacity":0},"encoding":{"x":{"field":"x","type":"quantitative","scale":{"domain":[0.5,91.5],"nice":false,"zero":false},"axis":{"orient":"top","values":[20,40,60,80],"labels":false,"title":null,"tickSize":8,"tickWidth":6,"tickCap":"round","tickColor":"black","domainColor":"black","domainWidth":7,"grid":false,"zindex":1}},"y":{"field":"y","type":"quantitative","scale":{"domain":[0.5,91.5],"nice":false,"zero":false},"axis":{"orient":"right","values":[20,40,60,80],"labels":false,"title":null,"tickSize":8,"tickWidth":6,"tickCap":"round","tickColor":"black","domainColor":"black","domainWidth":7,"grid":false,"zindex":1}}}}]},{"width":7,"height":1696,"view":{"stroke":"black","strokeWidth":10},"data":{"name":"bar"},"mark":{"type":"rect","stroke":null},"encoding":{"y":{"field":"a","type":"quantitative","scale":{"domain":[0.8,21.24],"nice":false,"zero":false},"axis":{"orient":"right","values":[5,10,15,20],"title":null,"domain":false,"labelFontSize":46,"labelFontWeight":"bold","labelPadding":4,"tickSize":9,"tickWidth":6,"tickCap":"round","tickColor":"black","grid":false,"zindex":1,"labelColor":"black"}},"y2":{"field":"b"},"color":{"field":"v","type":"quantitative","legend":null,"scale":{"type":"threshold","domain":[1.96,3.28,4.58,5.87,7.16,8.49,9.79,11.09,12.39,13.69,14.99,16.29,17.59,18.89,20],"range":["#ff0000","#ff2000","#ff4d00","#ff6600","#ff8800","#ffa500","#a5bf83","#a0bb85","#97b48c","#8dac95","#82a49e","#789da8","#6e96b0","#648eb8","#5a87bf","#0000ff"]}}}}]}
